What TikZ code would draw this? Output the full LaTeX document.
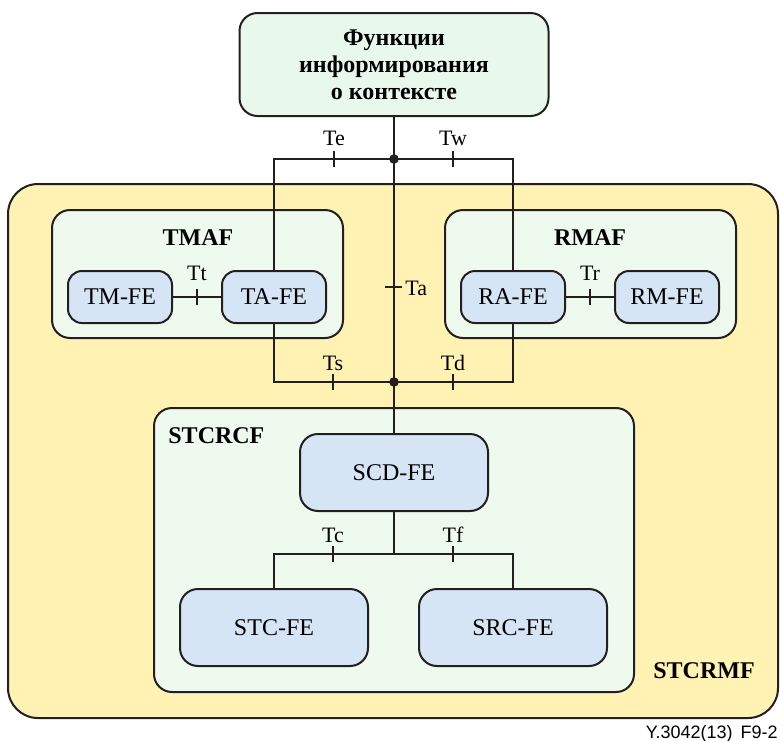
\documentclass[tikz,border=0pt]{standalone}
\usepackage{fontspec}
\setmainfont{Liberation Serif}
\newfontfamily\figsans{Liberation Sans}
\definecolor{outeryellow}{RGB}{255,242,179}
\definecolor{panelgreen}{RGB}{237,250,237}
\definecolor{ctxgreen}{RGB}{233,248,237}
\definecolor{feblue}{RGB}{214,229,246}
\definecolor{edge}{RGB}{35,31,32}
\begin{document}
\begin{tikzpicture}[x=0.5pt,y=-0.5pt,
  frame/.style={draw=edge,line width=1pt,inner sep=0pt},
  outer/.style={frame,fill=outeryellow,rounded corners=15pt},
  panel/.style={frame,fill=panelgreen,rounded corners=9pt},
  fe/.style={frame,fill=feblue,rounded corners=7pt,
    minimum width=52pt,minimum height=26pt,font=\fontsize{12}{14}\selectfont},
  bigfe/.style={fe,rounded corners=9pt,minimum width=94pt,minimum height=38.5pt},
  title/.style={inner sep=0pt,font=\bfseries\fontsize{12}{13.5}\selectfont},
  ref/.style={inner sep=0pt,font=\fontsize{11}{13}\selectfont},
  link/.style={draw=edge,line width=0.9pt},
  junction/.style={fill=edge}]
\useasboundingbox (0,0) rectangle (781,740);

% containers
\node[outer,minimum width=385pt,minimum height=267pt] (stcrmf) at (393,451) {};
\node[panel,fill=ctxgreen,minimum width=154.5pt,minimum height=51.5pt,
      title,align=center] (ctx) at (394,64.5)
      {Функции\\информирования\\о контексте};
\node[panel,minimum width=145.5pt,minimum height=64pt] (tmaf) at (197.5,274) {};
\node[panel,minimum width=145.5pt,minimum height=64pt] (rmaf) at (590.5,274) {};
\node[panel,minimum width=240pt,minimum height=142pt] (stcrcf) at (394,550) {};

% container titles
\node[title] (tmaflbl) at (198,237.5) {TMAF};
\node[title] (rmaflbl) at (590,237.5) {RMAF};
\node[title,anchor=base west] (stcrcflbl) at (168,443) {STCRCF};
\node[title,anchor=base] (stcrmflbl) at (704,678) {STCRMF};

% functional entities
\node[fe] (tm) at (120,297) {TM-FE};
\node[fe] (ta) at (274,297) {TA-FE};
\node[fe] (ra) at (513,297) {RA-FE};
\node[fe] (rm) at (667,297) {RM-FE};
\node[bigfe] (scd) at (394,472.5) {SCD-FE};
\node[bigfe] (stc) at (274,627.5) {STC-FE};
\node[bigfe] (src) at (513,627.5) {SRC-FE};

% junctions
\coordinate (jtop) at (394,159);
\coordinate (jmid) at (394,382);
\coordinate (jlow) at (394,554);

% connectors
\draw[link] (ctx.south) -- (jtop) -- (jmid) -- (scd.north);
\draw[link] (jtop) -| (ta.north);
\draw[link] (jtop) -| (ra.north);
\draw[link] (ta.south) |- (jmid);
\draw[link] (ra.south) |- (jmid);
\draw[link] (tm.east) -- (ta.west);
\draw[link] (ra.east) -- (rm.west);
\draw[link] (scd.south) -- (jlow);
\draw[link] (jlow) -| (stc.north);
\draw[link] (jlow) -| (src.north);
\fill[junction] (jtop) circle[radius=2.4pt];
\fill[junction] (jmid) circle[radius=2.4pt];

% reference points: ticks
\draw[link] (334,159) ++(0,-8) -- ++(0,16);
\draw[link] (453,159) ++(0,-8) -- ++(0,16);
\draw[link] (197,297) ++(0,-8) -- ++(0,16);
\draw[link] (590,297) ++(0,-8) -- ++(0,16);
\draw[link] (385,287) -- (402,287);
\draw[link] (333,382) ++(0,-8) -- ++(0,16);
\draw[link] (453,382) ++(0,-8) -- ++(0,16);
\draw[link] (333,554) ++(0,-8) -- ++(0,16);
\draw[link] (453,554) ++(0,-8) -- ++(0,16);

% reference point labels
\node[ref,anchor=base] (te) at (334,145) {Te};
\node[ref,anchor=base] (tw) at (453,145) {Tw};
\node[ref,anchor=base] (tt) at (197,280) {Tt};
\node[ref,anchor=base] (tr) at (590,280) {Tr};
\node[ref,anchor=west] (tafl) at (405,288) {Ta};
\node[ref,anchor=base] (ts) at (333,370) {Ts};
\node[ref,anchor=base] (td) at (453,370) {Td};
\node[ref,anchor=base] (tc) at (333,542) {Tc};
\node[ref,anchor=base] (tf) at (453,542) {Tf};

% figure reference
\node[inner sep=0pt,anchor=base east,font=\figsans\fontsize{9}{10}\selectfont]
  (figref) at (778,738) {Y.3042(13)\hspace{4pt}F9-2};
\end{tikzpicture}
\end{document}
